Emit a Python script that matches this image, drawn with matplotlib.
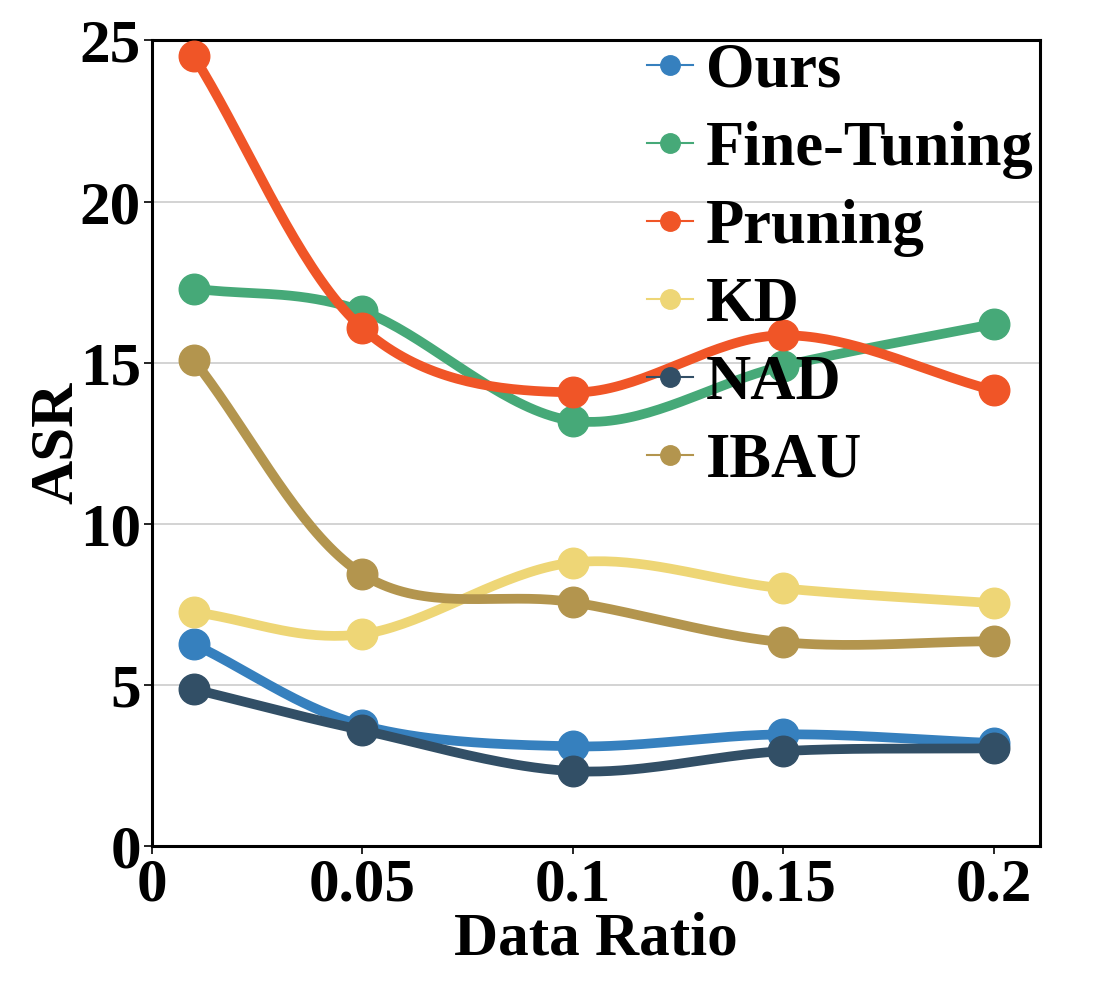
import numpy as np
import matplotlib
matplotlib.use("Agg")
import matplotlib.pyplot as plt
from matplotlib.lines import Line2D

plt.rcParams["font.family"] = ["Liberation Serif", "DejaVu Serif"]
plt.rcParams["font.weight"] = "bold"
plt.rcParams["axes.labelweight"] = "bold"

# data
ratios = [0.01, 0.05, 0.1, 0.15, 0.2]
labels = ["Ours", "Fine-Tuning", "Pruning", "KD", "NAD", "IBAU"]
ours = [6.27, 3.75, 3.10, 3.47, 3.20]
fine_tuning = [17.30, 16.60, 13.20, 14.90, 16.20]
pruning = [24.50, 16.07, 14.08, 15.85, 14.14]
kd = [7.26, 6.58, 8.80, 8.00, 7.54]
nad = [4.87, 3.60, 2.33, 2.95, 3.04]
ibau = [15.07, 8.44, 7.57, 6.33, 6.36]
colors = ["#3680be", "#46a978", "#f05527", "#eed676", "#324f66", "#b3954e"]
series = [ours, fine_tuning, pruning, kd, nad, ibau]


def smooth(x, y, n=40):
    # catmull-rom through the measured points
    x = np.asarray(x, float)
    y = np.asarray(y, float)
    px = np.concatenate([[2 * x[0] - x[1]], x, [2 * x[-1] - x[-2]]])
    py = np.concatenate([[2 * y[0] - y[1]], y, [2 * y[-1] - y[-2]]])
    xs, ys = [], []
    t = np.linspace(0, 1, n)
    for i in range(1, len(px) - 2):
        for p, out in ((px, xs), (py, ys)):
            p0, p1, p2, p3 = p[i - 1], p[i], p[i + 1], p[i + 2]
            out.append(0.5 * (2 * p1 + (-p0 + p2) * t
                              + (2 * p0 - 5 * p1 + 4 * p2 - p3) * t ** 2
                              + (-p0 + 3 * p1 - 3 * p2 + p3) * t ** 3))
    return np.concatenate(xs), np.concatenate(ys)


fig = plt.figure(figsize=(10.93, 9.84), dpi=100)
ax = fig.add_axes([0.139, 0.140, 0.8125, 0.819])

for i, (vals, c) in enumerate(zip(series, colors)):
    sx, sy = smooth(ratios, vals)
    ax.plot(sx, sy, color=c, lw=7, solid_capstyle="round", zorder=3 + i)
    ax.plot(ratios, vals, "o", color=c, ms=22, zorder=3 + i)

ax.set_xlim(0, 0.211)
ax.set_ylim(0, 25)
ax.set_xticks([0, 0.05, 0.1, 0.15, 0.2])
ax.set_xticklabels(["0", "0.05", "0.1", "0.15", "0.2"])
ax.set_yticks([0, 5, 10, 15, 20, 25])
ax.yaxis.grid(True, color="#cccccc", lw=1.2, zorder=0)
ax.set_axisbelow(True)
ax.tick_params(labelsize=44, width=1.2, length=6, pad=2)
for s in ax.spines.values():
    s.set_linewidth(2.2)

ax.set_xlabel("Data Ratio", fontsize=44, labelpad=-1)
ax.set_ylabel("ASR", fontsize=44, labelpad=-4)

handles = [Line2D([], [], color=c, lw=1.5, marker="o", ms=14) for c in colors]
ax.legend(handles, labels, loc="upper right", frameon=False, fontsize=45,
          handlelength=0.75, handletextpad=0.2, labelspacing=0.32,
          borderaxespad=0.0, bbox_to_anchor=(1.021, 1.028))

fig.savefig("out.png", dpi=100)
